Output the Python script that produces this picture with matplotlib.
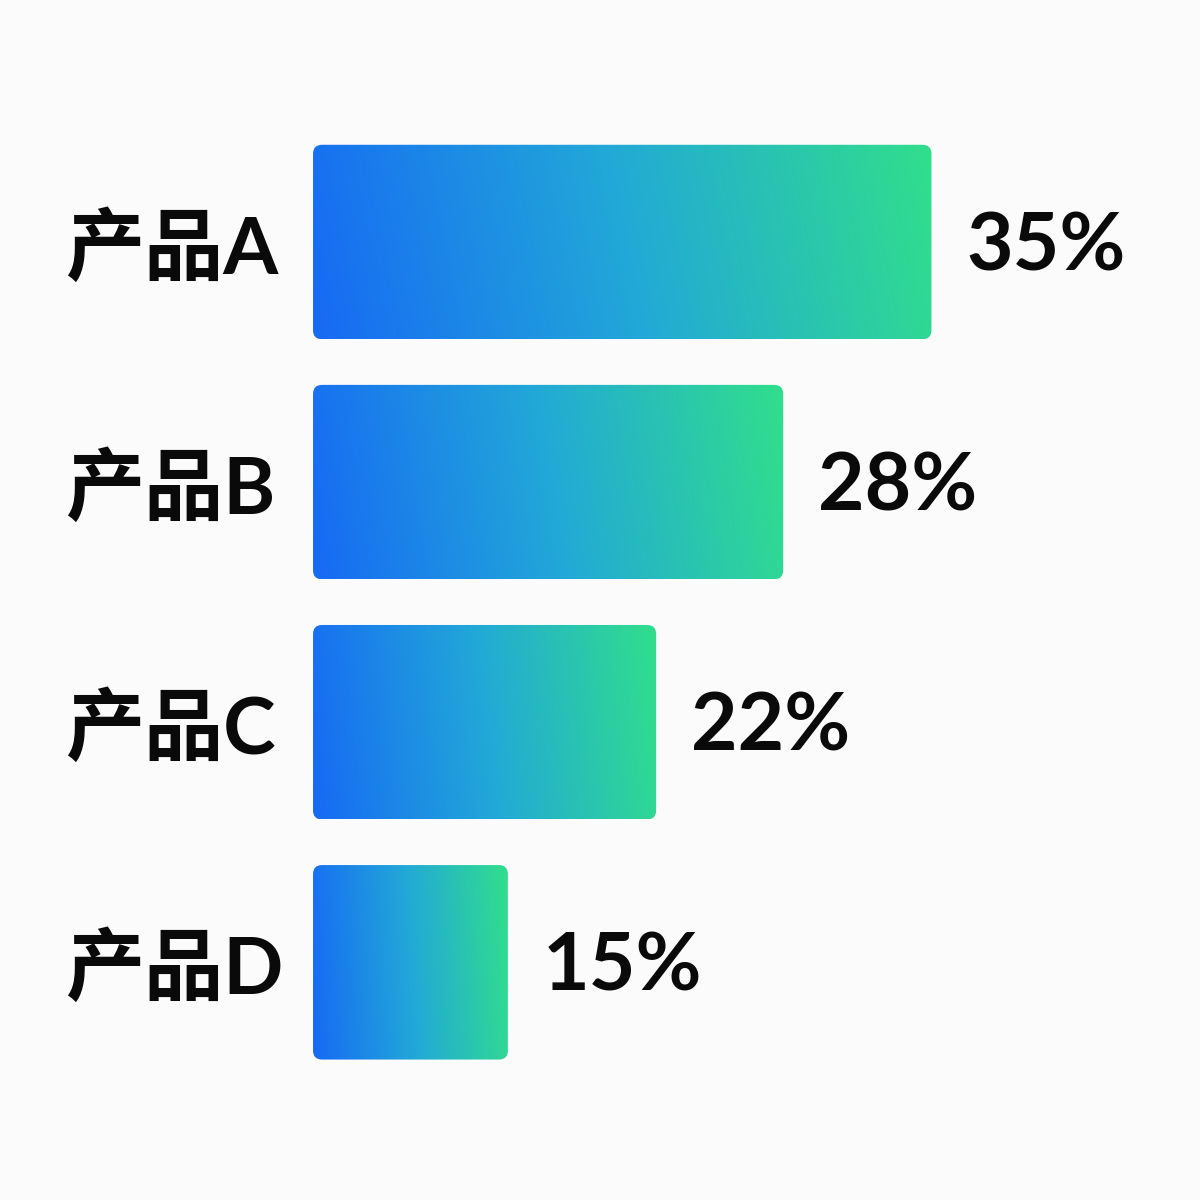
import numpy as np
import matplotlib
matplotlib.use("Agg")
import matplotlib.pyplot as plt
from matplotlib.patches import FancyBboxPatch
from matplotlib.colors import LinearSegmentedColormap
import matplotlib.transforms as mtransforms

plt.rcParams['font.family'] = ['Lato', 'Noto Sans CJK SC', 'DejaVu Sans']

products = ["产品A", "产品B", "产品C", "产品D"]
shares = [35, 28, 22, 15]
share_labels = ["35%", "28%", "22%", "15%"]

bg = "#fbfbfc"
grad = LinearSegmentedColormap.from_list("bg", ["#176af4", "#22a8d8", "#31de8c"])

base = 5.8           # bars start here on the value scale
xlim = (-8.98, 47.68)
ylim = (3.99, -1.008)
bar_h = 0.81

fig = plt.figure(figsize=(12, 12), dpi=100, facecolor=bg)
ax = fig.add_axes([0, 0, 1, 1])
ax.set_facecolor(bg)
ax.set_xlim(*xlim)
ax.set_ylim(*ylim)
ax.axis("off")

# data units per pixel, to keep round corners circular
xu = (xlim[1] - xlim[0]) / 1200
yu = abs(ylim[1] - ylim[0]) / 1200
radius_px = 9

# mostly horizontal gradient, slight diagonal
nx, ny = 256, 64
gx, gy = np.meshgrid(np.linspace(0, 1, nx), np.linspace(0, 1, ny))
tt = np.clip(gx * 0.94 + (1 - gy) * 0.06, 0, 1)

label_tr = mtransforms.blended_transform_factory(fig.transFigure, ax.transData)

for i, (name, v, lab) in enumerate(zip(products, shares, share_labels)):
    y0 = i - bar_h / 2
    patch = FancyBboxPatch((base, y0), v - base, bar_h,
                           boxstyle=f"round,pad=0,rounding_size={radius_px * xu}",
                           mutation_aspect=yu / xu,
                           facecolor="none", edgecolor="none")
    ax.add_patch(patch)
    im = ax.imshow(tt, cmap=grad, extent=(base, v, i + bar_h / 2, y0),
                   aspect="auto", interpolation="bilinear", zorder=2)
    im.set_clip_path(patch)
    ax.text(v + 35 * xu, i + 28 * yu, lab, ha="left", va="baseline", fontsize=58,
            fontweight="bold", color="#0a0a0a")
    ax.text(65 / 1200, i + 32 * yu, name, transform=label_tr, ha="left", va="baseline",
            fontsize=57, fontweight="bold", color="#0a0a0a")

ax.set_xlim(*xlim)
ax.set_ylim(*ylim)
fig.savefig("out.png", dpi=100, facecolor=bg)
